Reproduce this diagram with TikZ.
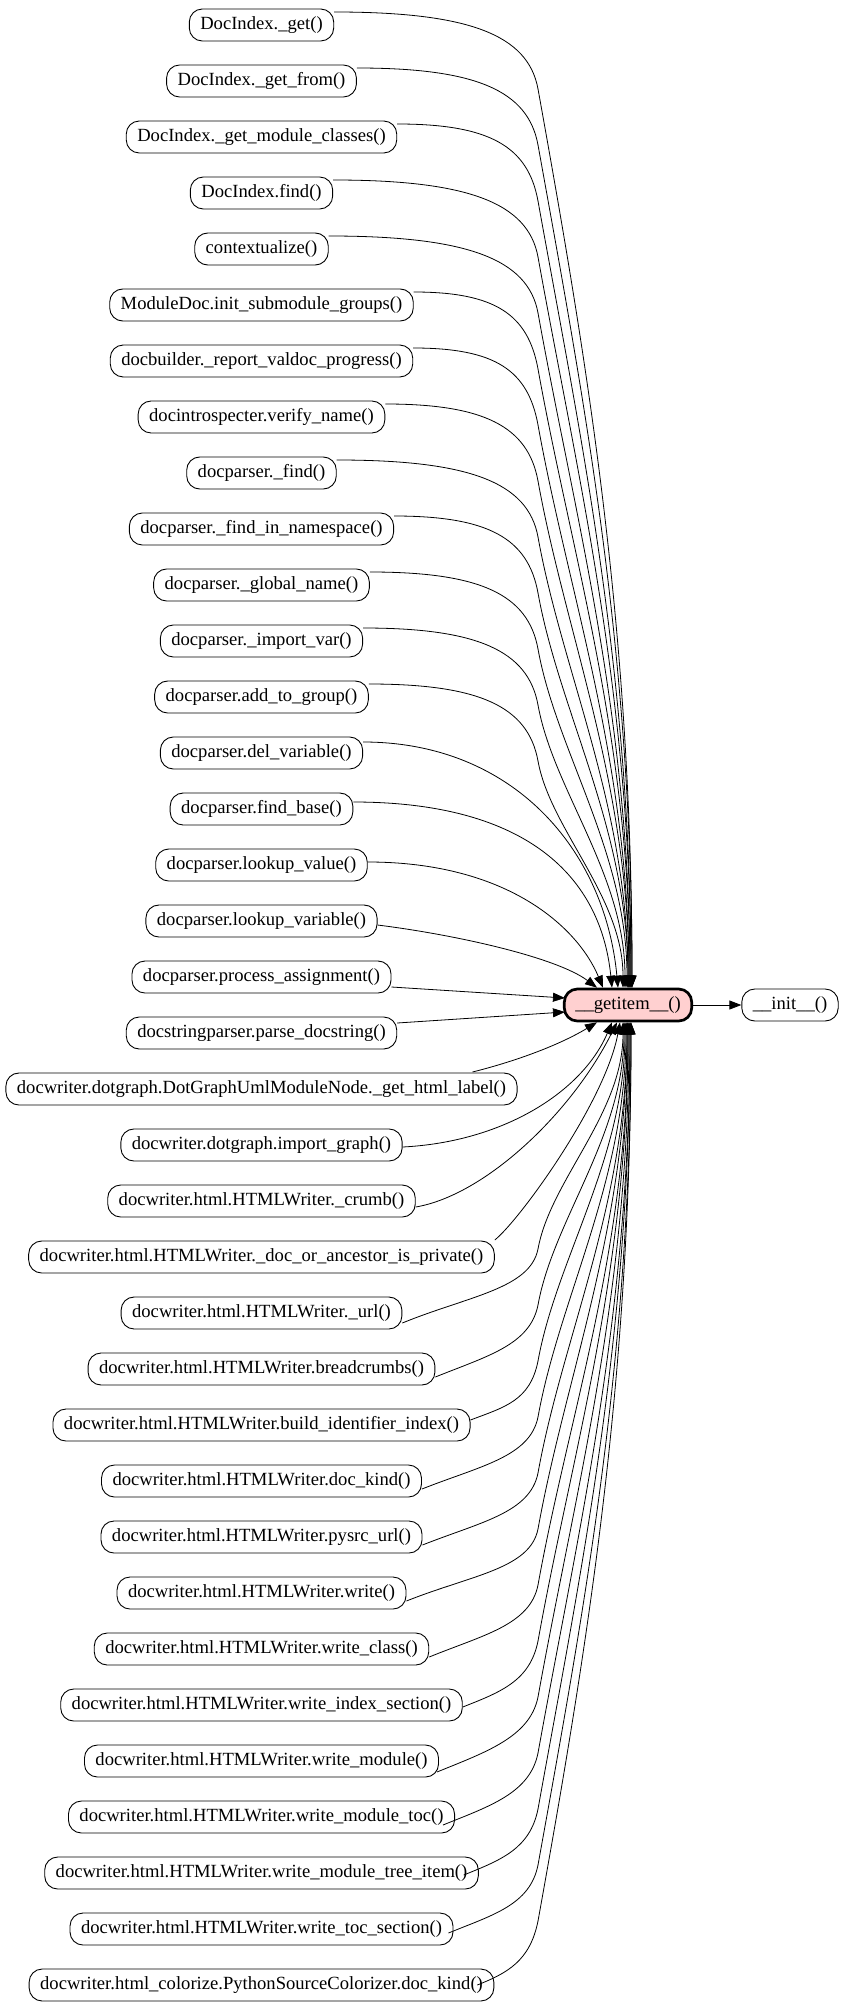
\documentclass[tikz,border=0pt]{standalone}
\usepackage{fontspec}
\setmainfont{Liberation Serif}
\usetikzlibrary{arrows.meta,calc}
\definecolor{gifill}{RGB}{255,208,208}
\tikzset{
  fn/.style={draw, rounded corners=13pt, minimum height=32pt, inner xsep=11pt, inner ysep=0pt,
    line width=0.9pt, font=\fontsize{18.6}{20}\selectfont},
  hub/.style={fn, fill=gifill, line width=2.7pt},
  edge/.style={line width=0.8pt, -{Triangle[length=12pt,width=9pt]}}
}
\begin{document}
\begin{tikzpicture}[x=1pt,y=-1pt]
\useasboundingbox (0,0) rectangle (845,2009);
\foreach \t [count=\j from 0] in {
DocIndex.\_get(),
DocIndex.\_get\_from(),
DocIndex.\_get\_module\_classes(),
DocIndex.find(),
contextualize(),
ModuleDoc.init\_submodule\_groups(),
docbuilder.\_report\_valdoc\_progress(),
docintrospecter.verify\_name(),
docparser.\_find(),
docparser.\_find\_in\_namespace(),
docparser.\_global\_name(),
docparser.\_import\_var(),
docparser.add\_to\_group(),
docparser.del\_variable(),
docparser.find\_base(),
docparser.lookup\_value(),
docparser.lookup\_variable(),
docparser.process\_assignment(),
docstringparser.parse\_docstring(),
docwriter.dotgraph.DotGraphUmlModuleNode.\_get\_html\_label(),
docwriter.dotgraph.import\_graph(),
docwriter.html.HTMLWriter.\_crumb(),
docwriter.html.HTMLWriter.\_doc\_or\_ancestor\_is\_private(),
docwriter.html.HTMLWriter.\_url(),
docwriter.html.HTMLWriter.breadcrumbs(),
docwriter.html.HTMLWriter.build\_identifier\_index(),
docwriter.html.HTMLWriter.doc\_kind(),
docwriter.html.HTMLWriter.pysrc\_url(),
docwriter.html.HTMLWriter.write(),
docwriter.html.HTMLWriter.write\_class(),
docwriter.html.HTMLWriter.write\_index\_section(),
docwriter.html.HTMLWriter.write\_module(),
docwriter.html.HTMLWriter.write\_module\_toc(),
docwriter.html.HTMLWriter.write\_module\_tree\_item(),
docwriter.html.HTMLWriter.write\_toc\_section(),
docwriter.html\_colorize.PythonSourceColorizer.doc\_kind()}
  \node[fn] (n\j) at (261.5,{25+56*\j}) {\t};

\node[hub] (gi) at (628,1005) {\_\_getitem\_\_()};
\node[fn] (init) at (790,1005) {\_\_init\_\_()};
\draw[edge] (gi) -- (init);

% upper far edges
\foreach \j/\hh/\ex in {0/133/4,1/118/4,2/92/3,3/133/3,4/136/2,5/81/2,6/82/1,7/98/1,8/132/0,9/94/0,10/110/-1,11/113/-3,12/110/-5}{
  \pgfmathsetmacro\myY{25+56*\j}
  \pgfmathsetmacro\myB{\myY+64}
  \pgfmathsetmacro\myD{988-\myB}
  \pgfmathsetmacro\myKx{538+0.054*\myD}
  \pgfmathsetmacro\myKy{\myB+0.3*\myD}
  \pgfmathsetmacro\myL{0.4*\myD}
  \draw[edge] ($(n\j.east)+(0,-13)$) .. controls +(\hh,0) and (528,\myY+9) .. (538,\myB)
     .. controls (\myKx,\myKy) and +(0,-\myL) .. ($(gi.north)+(\ex,0)$);
}
% upper near edges
\draw[edge] ($(n13.east)+(0,-11)$) .. controls +(150,0) and +(-13,-138) .. ($(gi.north)+(-10,0)$);
\draw[edge] ($(n14.east)+(0,-7)$) .. controls +(165,0) and +(-12,-118) .. ($(gi.north)+(-16,0)$);
\draw[edge] ($(n15.east)+(0,-3)$) .. controls +(140,0) and +(-25,-60) .. ($(gi.north)+(-25,0)$);
\draw[edge] ($(n16.east)+(0,4)$) .. controls +(80,10) and +(-40,-30) .. ($(gi.north)+(-31,0)$);
% side edges
\draw[edge] ($(n17.east)+(0,10)$) -- ($(gi.west)+(2,-7)$);
\draw[edge] ($(n18.east)+(0,-10)$) -- ($(gi.west)+(2,7)$);
% lower near edges
\draw[edge] ($(n19.east)+(-45,-17)$) .. controls +(40,-10) and +(-40,24) .. ($(gi.south)+(-31,0)$);
\draw[edge] ($(n20.east)+(0,2)$) .. controls +(100,-5) and +(-30,70) .. ($(gi.south)+(-16,0)$);
\draw[edge] ($(n21.east)+(0,6)$) .. controls +(70,-12) and +(-45,90) .. ($(gi.south)+(-11,0)$);
\draw[edge] ($(n22.east)+(0,-17)$) .. controls +(25,-20) and +(-15,80) .. ($(gi.south)+(-8,0)$);
% lower far edges
\foreach \j/\dx/\dy/\hh/\vv/\ex in {23/0/10/66/27/-5,24/0/8/52/21/-4,25/0/-5/34/13/-3,26/0/8/58/23/-2,27/0/8/58/23/-1,28/0/8/65/26/-1,29/0/8/54/22/0,30/0/2/38/15/0,31/-2/11/49/20/1,32/-12/8/47/19/2,33/-15/2/37/15/2,34/-5/4/44/18/3,35/-17/0/30/12/3}{
  \pgfmathsetmacro\myY{25+56*\j}
  \pgfmathsetmacro\myB{\myY-64}
  \pgfmathsetmacro\myD{\myB-1021}
  \pgfmathsetmacro\myKx{538+0.054*\myD}
  \pgfmathsetmacro\myKy{\myB-0.3*\myD}
  \pgfmathsetmacro\myL{0.4*\myD}
  \draw[edge] ($(n\j.east)+(\dx,\dy)$) .. controls +(\hh,-\vv) and (530,\myY-24) .. (538,\myB)
     .. controls (\myKx,\myKy) and +(0,\myL) .. ($(gi.south)+(\ex,0)$);
}
\end{tikzpicture}
\end{document}
